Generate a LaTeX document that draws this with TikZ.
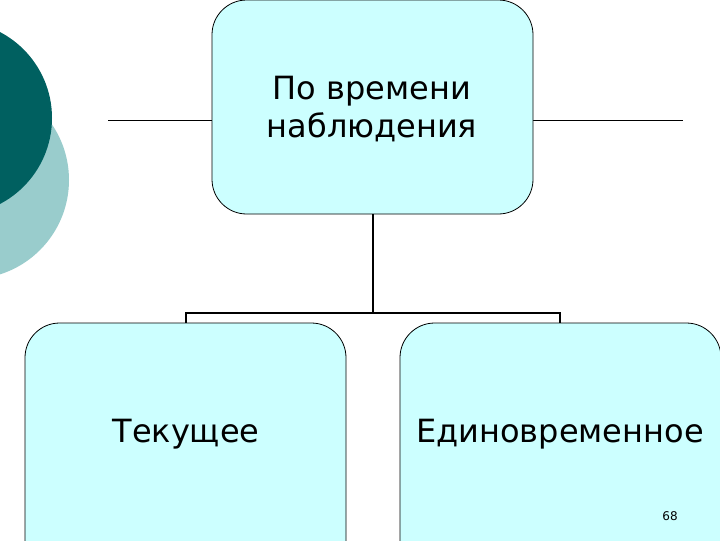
\documentclass[tikz,border=0pt]{standalone}
\usepackage{fontspec}
\setmainfont{DejaVu Sans}
\definecolor{boxfill}{RGB}{204,255,255}
\begin{document}
\begin{tikzpicture}[x=0.75pt,y=-0.75pt,
  box/.style={draw=black,fill=boxfill,rounded corners=26pt,line width=0.6pt},
  lbl/.style={font=\fontsize{24}{28.5}\selectfont,align=center}]
\useasboundingbox (0,0) rectangle (720,540);
\clip (0,0) rectangle (720,540);
\fill[white] (0,0) rectangle (720,540);
\fill[teal!40!white] (-30,180) circle (99);
\fill[teal!75!black] (-45,118) circle (97);
\draw[line width=0.7pt] (108,120) -- (212,120);
\draw[line width=0.7pt] (533,120) -- (683,120);
\draw[box] (212,0) rectangle (533,214);
\node[lbl] (top) at (372,109) {По времени\\наблюдения};
\draw[line width=1.5pt] (373,214) -- (373,313);
\draw[line width=1.5pt] (186,323) -- (186,313) -- (560,313) -- (560,323);
\draw[box] (25,323) rectangle (346,580);
\draw[box] (400,323) rectangle (721,580);
\node[lbl] (a) at (186,434) {Текущее};
\node[lbl] (b) at (560,434) {Единовременное};
\node[font=\fontsize{9}{11}\selectfont] (n) at (670,516) {68};
\end{tikzpicture}
\end{document}
